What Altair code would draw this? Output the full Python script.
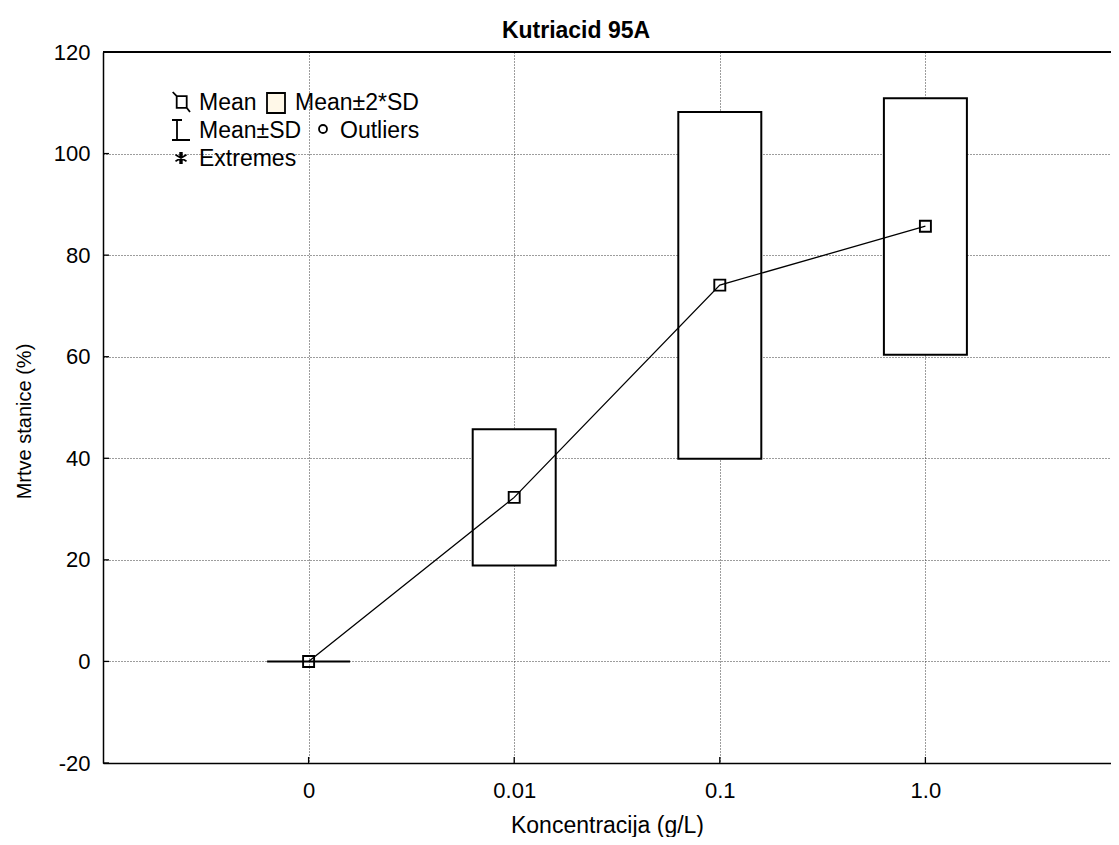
import altair as alt
import pandas as pd

# ---- data ----
conc_labels = ["0", "0.01", "0.1", "1.0"]
positions = [0, 1, 2, 3]
means = [0.0, 32.3, 74.1, 85.7]
sd2_low = [0.0, 18.9, 39.9, 60.4]
sd2_high = [0.0, 45.7, 108.2, 110.9]
y_ticks = [-20, 0, 20, 40, 60, 80, 100, 120]

legend_items = ["Mean", "Mean±2*SD", "Mean±SD", "Outliers", "Extremes"]
legend_shapes = [
    "M-0.83,-1L-0.43,-0.58M0.57,0.58L0.9,1M-0.43,-0.58H0.57V0.58H-0.43Z",
    "M-0.9,-1H0.9V1H-0.9Z",
    "M-0.9,-1H0.1M-0.4,-1V1M-0.9,1H0.9",
    "M0.4,0A0.4,0.4 0 1,1 -0.4,0A0.4,0.4 0 1,1 0.4,0Z",
    "M0,-0.6V0.6M-0.55,-0.32L0.55,0.32M-0.55,0.32L0.55,-0.32M-0.08,-0.6V0.6M0.08,-0.6V0.6",
]
legend_fills = ["transparent", "#FFF8E8", "transparent", "transparent", "transparent"]

# ---- legend layout (pixels inside the plot area) ----
leg_sym_x = [78, 173, 78, 220, 78]
leg_sym_y = [50, 51, 78, 77, 106]
leg_txt_x = [96, 192, 96, 237, 96]
leg_txt_y = [51, 51, 79, 79, 107]

df = pd.DataFrame({"pos": positions, "label": conc_labels,
                   "mean": means, "lo": sd2_low, "hi": sd2_high})
ytick_df = pd.DataFrame({"v": y_ticks})
leg_df = pd.DataFrame({"item": legend_items, "sx": leg_sym_x, "sy": leg_sym_y,
                       "tx": leg_txt_x, "ty": leg_txt_y})

FONT = "Liberation Sans"
PLOT_W = 1008
PLOT_H = 711
GRID = dict(grid=True, gridColor="#3a3a3a", gridDash=[1, 2], gridWidth=1, gridOpacity=1)

label_expr = "[" + ",".join("'" + s + "'" for s in conc_labels) + "][datum.value]"

xscale = alt.Scale(domain=[-1, -1 + PLOT_W / 205.6], nice=False, zero=False, padding=0)
yscale = alt.Scale(domain=[-20, 120], nice=False, zero=False, padding=0)

xaxis = alt.Axis(values=positions, labelExpr=label_expr, title="Koncentracija (g/L)",
                 tickSize=0, labelPadding=17, titlePadding=13,
                 labelFontSize=22, titleFontSize=23, labelFont=FONT, titleFont=FONT,
                 titleFontWeight="normal", labelColor="black", titleColor="black",
                 domainColor="black", domainWidth=1.5, **GRID)
yaxis = alt.Axis(values=y_ticks, title="Mrtve stanice (%)",
                 labelExpr="'' + datum.value",
                 tickSize=0, labelPadding=13, titlePadding=19,
                 labelFontSize=22, titleFontSize=20, labelFont=FONT, titleFont=FONT,
                 titleFontWeight="normal", labelColor="black", titleColor="black",
                 domainColor="black", domainWidth=1.5, titleY=369, **GRID)

X = alt.X("pos:Q", scale=xscale, axis=xaxis)

boxes = alt.Chart(df).mark_bar(size=83, fill="white", stroke="black", strokeWidth=2).encode(
    x=X,
    y=alt.Y("lo:Q", scale=yscale, axis=yaxis),
    y2="hi:Q",
)

line = alt.Chart(df).mark_line(color="black", strokeWidth=1.3).encode(
    x=X,
    y=alt.Y("mean:Q", scale=yscale, axis=yaxis),
)

pts = alt.Chart(df).mark_point(shape="square", size=121, filled=False,
                               stroke="black", strokeWidth=1.9, opacity=1).encode(
    x=X,
    y=alt.Y("mean:Q", scale=yscale, axis=yaxis),
)

top_border = alt.Chart(df).mark_rule(color="black", strokeWidth=1.5).encode(
    y=alt.datum(120, scale=yscale)
)

# inward tick marks
yticks_in = alt.Chart(ytick_df).mark_rule(color="black", strokeWidth=1.3).encode(
    y=alt.Y("v:Q", scale=yscale, axis=yaxis),
    x=alt.value(0),
    x2=alt.value(6),
)
xticks_in = alt.Chart(df).mark_rule(color="black", strokeWidth=1.3).encode(
    x=X,
    y=alt.value(PLOT_H - 6),
    y2=alt.value(PLOT_H),
)

leg_sym = alt.Chart(leg_df).mark_point(filled=True, stroke="black", strokeWidth=1.8,
                                       size=400, opacity=1).encode(
    x=alt.X("sx:Q", scale=None),
    y=alt.Y("sy:Q", scale=None),
    shape=alt.Shape("item:N", scale=alt.Scale(domain=legend_items, range=legend_shapes),
                    legend=None),
    fill=alt.Fill("item:N", scale=alt.Scale(domain=legend_items, range=legend_fills),
                  legend=None),
)

leg_txt = alt.Chart(leg_df).mark_text(align="left", baseline="middle", font=FONT,
                                      fontSize=23, color="black").encode(
    x=alt.X("tx:Q", scale=None),
    y=alt.Y("ty:Q", scale=None),
    text="item:N",
)

chart = alt.layer(boxes, line, pts, top_border, yticks_in, xticks_in,
                  leg_sym, leg_txt).properties(
    width=PLOT_W,
    height=PLOT_H,
    padding={"left": 95, "top": 44, "right": 0, "bottom": 74},
    autosize=alt.AutoSizeParams(type="none"),
    title=alt.TitleParams("Kutriacid 95A", font=FONT, fontSize=23, fontWeight="bold",
                          color="black", anchor="middle", frame="group", dx=-31, offset=-2),
).configure_view(
    strokeWidth=0
).configure(background="white")

chart.save("out.html", embed_options={"renderer": "svg", "actions": False})
